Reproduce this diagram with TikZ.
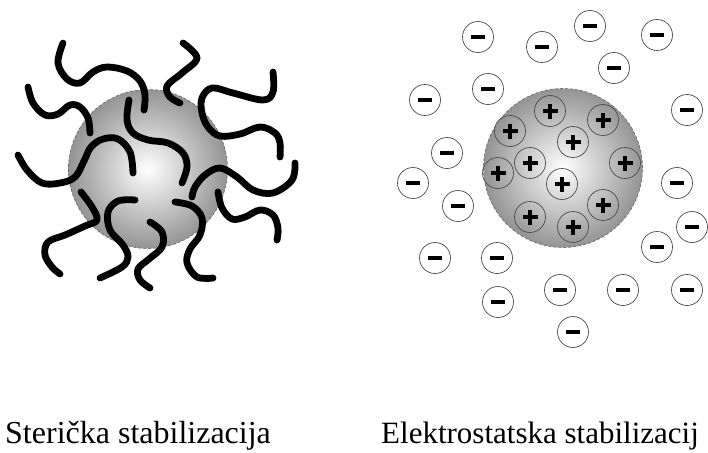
\documentclass[tikz,border=0pt]{standalone}
\usepackage{fontspec}
\setmainfont{Liberation Serif}
\begin{document}
\begin{tikzpicture}[x=1pt,y=-1pt,
  particle/.style={circle, draw=black!60, line width=0.6pt, densely dashed,
    inner color=white, outer color=black!42, minimum size=159pt, inner sep=0pt},
  ion/.style={circle, draw=black!70, line width=0.7pt, minimum size=31pt, inner sep=0pt},
  anion/.style={ion, fill=white, path picture={
    \fill[black] ([xshift=-7pt,yshift=-2pt]path picture bounding box.center)
      rectangle ([xshift=7pt,yshift=2pt]path picture bounding box.center);}},
  cation/.style={ion, path picture={
    \fill[black] ([xshift=-7.5pt,yshift=-2.2pt]path picture bounding box.center)
      rectangle ([xshift=7.5pt,yshift=2.2pt]path picture bounding box.center);
    \fill[black] ([xshift=-2.2pt,yshift=-7.5pt]path picture bounding box.center)
      rectangle ([xshift=2.2pt,yshift=7.5pt]path picture bounding box.center);}},
  chain/.style={line width=6.8pt, line join=round, line cap=round, black},
  caption/.style={anchor=base west, inner sep=0pt, font=\fontsize{32}{38}\selectfont}
]
\useasboundingbox (0,0) rectangle (708,452);

% ---- steric stabilisation: particle with adsorbed polymer chains ----
\node[particle] (core1) at (148,169) {};
\draw[chain] plot[smooth, tension=0.6] coordinates {(63,43) (58,63) (67,79) (80,83) (93,72) (107,67) (127,71) (140,81) (145,95) (144,110)};
\draw[chain] plot[smooth, tension=0.6] coordinates {(28,87) (33,103) (45,115) (58,114) (70,105) (80,107) (88,118) (90,133)};
\draw[chain] plot[smooth, tension=0.6] coordinates {(183,43) (197,58) (182,73) (167,86) (170,97) (180,103)};
\draw[chain] plot[smooth, tension=0.6] coordinates {(273,72) (273,92) (263,100) (233,93) (212,88) (202,98) (202,113) (208,127) (220,136) (240,134) (260,127) (275,133) (280,143) (280,157)};
\draw[chain] plot[smooth, tension=0.6] coordinates {(129,100) (127,120) (133,133) (148,140) (168,143) (183,153) (187,167) (182,183)};
\draw[chain] plot[smooth, tension=0.6] coordinates {(18,155) (27,170) (42,183) (60,183) (75,177) (84,161) (91,147) (103,139) (118,139) (130,152) (133,173)};
\draw[chain] plot[smooth, tension=0.6] coordinates {(295,163) (292,180) (273,193) (253,190) (237,177) (220,168) (205,175) (195,187) (192,197)};
\draw[chain] plot[smooth, tension=0.6] coordinates {(218,192) (222,208) (232,219) (245,217) (260,210) (273,215) (278,228) (277,240)};
\draw[chain] plot[smooth, tension=0.6] coordinates {(175,202) (192,206) (202,218) (200,235) (190,249) (187,263) (197,277) (213,278)};
\draw[chain] plot[smooth, tension=0.6] coordinates {(150,222) (162,232) (162,247) (149,259) (138,269) (140,280) (150,288)};
\draw[chain] plot[smooth, tension=0.6] coordinates {(135,200) (118,201) (108,212) (110,230) (123,245) (128,257) (122,267) (100,278)};
\draw[chain] plot[smooth, tension=0.6] coordinates {(81,192) (92,207) (97,220) (85,226) (65,235) (48,242) (45,255) (52,267) (60,274)};

% ---- electrostatic stabilisation: charged particle and counter-ions ----
\node[particle] (core2) at (563,168) {};
\foreach \p [count=\i] in {(550,111),(603,120),(510,131),(573,142),(530,163),(625,163),
    (498,173),(562,184),(603,205),(530,217),(573,227)}
  \node[cation] (p\i) at \p {};
\foreach \p [count=\i] in {(478,37),(542,47),(590,26),(657,35),(614,68),(488,89),(425,100),
    (687,110),(447,153),(413,183),(458,206),(677,183),(692,227),(657,247),(435,258),
    (497,258),(498,302),(560,290),(623,290),(687,290),(573,332)}
  \node[anion] (n\i) at \p {};

% ---- captions ----
\node[caption] (cap1) at (5,443) {Sterička stabilizacija};
\node[caption, font=\fontsize{31}{37}\selectfont] (cap2) at (381,443) {Elektrostatska stabilizacij};
\end{tikzpicture}
\end{document}
